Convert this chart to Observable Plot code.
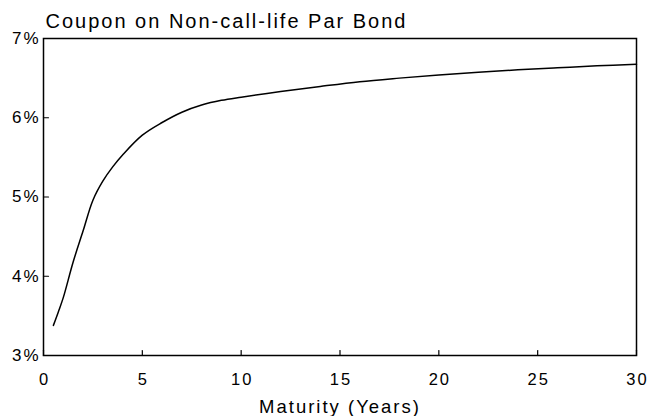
<!DOCTYPE html>
<html>
<head>
<meta charset="utf-8">
<script src="https://cdn.jsdelivr.net/npm/d3@7"></script>
<script src="https://cdn.jsdelivr.net/npm/@observablehq/plot@0.6"></script>
<style>
  html, body { margin: 0; padding: 0; background: #fff; }
  #chart svg text { letter-spacing: 2px; }
  #chart svg g[aria-label="xlabel"] text { letter-spacing: 2.8px; }
  #chart svg g[aria-label="title"] text { letter-spacing: 2.5px; }
</style>
</head>
<body>
<div id="chart"></div>
<script>
const title = "Coupon on Non-call-life Par Bond";
const xLabel = "Maturity (Years)";
const maturity = [0.5, 0.75, 1, 1.5, 2, 2.5, 3, 3.5, 4, 5, 6, 7, 8, 9, 10, 12, 14, 16, 18, 20, 22, 24, 26, 28, 30];
const coupon   = [3.38, 3.55, 3.73, 4.18, 4.57, 4.96, 5.20, 5.38, 5.53, 5.78, 5.94, 6.07, 6.16, 6.22, 6.26, 6.33, 6.395, 6.455, 6.50, 6.54, 6.575, 6.605, 6.63, 6.655, 6.675];
const xTicks = [0, 5, 10, 15, 20, 25, 30];
const yTicks = [3, 4, 5, 6, 7];

const data = maturity.map((m, i) => ({m, c: coupon[i]}));

const tickShape = {draw(context, l) { context.moveTo(0, 0); context.lineTo(0, -l); }};

const chart = Plot.plot({
  width: 649,
  height: 416,
  marginLeft: 43,
  marginRight: 13,
  marginTop: 38,
  marginBottom: 61,
  style: {fontFamily: "'Liberation Sans', Arial, sans-serif", fontSize: "16px", color: "#000", background: "#fff"},
  x: {domain: [0, 30]},
  y: {domain: [3, 7]},
  marks: [
    Plot.frame({stroke: "#000", strokeWidth: 1.5}),
    Plot.vector(xTicks, {x: d => d, frameAnchor: "bottom", rotate: 0, length: 5, anchor: "start", shape: tickShape, stroke: "#000", strokeWidth: 1.2}),
    Plot.vector(yTicks, {y: d => d, frameAnchor: "left", rotate: 90, length: 5, anchor: "start", shape: tickShape, stroke: "#000", strokeWidth: 1.2}),
    Plot.axisX(xTicks, {anchor: "bottom", tickSize: 0, tickPadding: 18, label: null, fill: "#000", fontSize: 16.5, dx: 1}),
    Plot.axisY(yTicks, {anchor: "left", tickSize: 0, tickPadding: 3, tickFormat: d => d + "%", label: null, fill: "#000", fontSize: 17, dx: 0}),
    Plot.line(data, {x: "m", y: "c", stroke: "#000", strokeWidth: 1.5, curve: "catmull-rom"}),
    Plot.text([title], {ariaLabel: "title", frameAnchor: "top-left", dx: 2, dy: -17, textAnchor: "start", lineAnchor: "middle", fontSize: 20, fill: "#000"}),
    Plot.text([xLabel], {ariaLabel: "xlabel", frameAnchor: "bottom", dy: 51.5, dx: 0, lineAnchor: "middle", fontSize: 18.5, fill: "#000"})
  ]
});
document.getElementById("chart").appendChild(chart);
</script>
</body>
</html>
